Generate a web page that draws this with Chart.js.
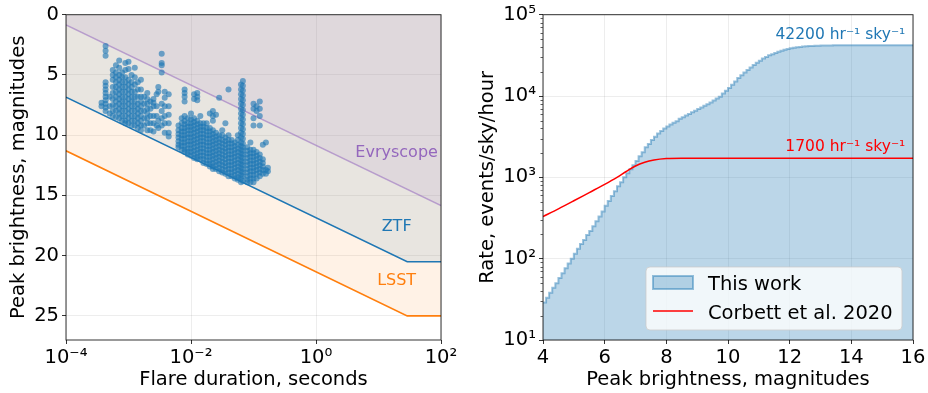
<!DOCTYPE html>
<html>
<head>
<meta charset="utf-8">
<script src="https://cdn.jsdelivr.net/npm/chart.js@4.4.1/dist/chart.umd.min.js"></script>
<style>
  body { margin: 0; background: #fff; }
  #wrap { position: relative; width: 928px; height: 393px; }
  canvas { position: absolute; top: 0; }
</style>
</head>
<body>
<div id="wrap">
  <canvas id="left" width="464" height="393" style="left:0"></canvas>
  <canvas id="right" width="464" height="393" style="left:464px"></canvas>
</div>
<script>
// ---------- left panel: survey limits + flare sample ----------
const durTicks = [1e-4, 1e-2, 1e0, 1e2];
const magTicks = [0, 5, 10, 15, 20, 25];

const evryDur = [1e-4, 1e2];
const evryMag = [0.85, 15.85];
const ztfDur = [1e-4, 28.8, 1e2];
const ztfMag = [6.85, 20.5, 20.5];
const lsstDur = [1e-4, 28.8, 1e2];
const lsstMag = [11.3, 25.0, 25.0];

// flare durations (s) and the peak magnitudes seen at each one
const flareDur = [
  3.7e-4, 4.3e-4, 5.0e-4, 5.6e-4, 6.3e-4, 7.1e-4, 7.9e-4, 8.9e-4, 1.0e-3, 1.12e-3,
  1.26e-3, 1.41e-3, 1.58e-3, 1.78e-3, 2.0e-3, 2.24e-3, 2.51e-3, 2.82e-3, 3.0e-3, 3.4e-3,
  3.8e-3, 4.4e-3,
  6.3e-3, 7.1e-3, 7.9e-3, 8.9e-3, 1.0e-2, 1.12e-2, 1.26e-2, 1.41e-2, 1.58e-2, 1.78e-2,
  2.0e-2, 2.24e-2, 2.51e-2, 2.82e-2, 3.16e-2, 3.55e-2, 3.98e-2, 4.47e-2, 5.01e-2, 5.62e-2,
  6.31e-2, 6.76e-2, 7.94e-2, 8.91e-2, 0.1, 0.112, 0.126, 0.141, 0.158, 0.17
];
const flareMag = [
  [7.3, 7.6],
  [2.6, 3.0, 3.4, 5.6, 5.9, 6.2, 6.5, 6.8, 7.1, 7.4, 7.7, 8.0],
  [6.8, 7.6, 8.2],
  [4.6, 5.0, 5.4, 6.0, 6.5, 7.0, 7.5, 8.0, 8.4],
  [4.2, 4.8, 5.2, 5.6, 6.0, 6.4, 6.8, 7.2, 7.6, 8.0, 8.5],
  [3.8, 4.4, 5.0, 5.4, 5.8, 6.2, 6.6, 7.0, 7.4, 7.8, 8.2, 8.6],
  [4.8, 5.2, 5.6, 6.0, 6.4, 6.8, 7.2, 7.6, 8.0, 8.4, 8.8],
  [4.0, 4.6, 5.2, 5.6, 6.0, 6.4, 6.8, 7.2, 7.6, 8.0, 8.4, 8.8, 9.0],
  [3.9, 4.5, 5.4, 5.8, 6.2, 6.6, 7.0, 7.4, 7.8, 8.2, 8.6, 9.0],
  [5.0, 5.6, 6.0, 6.4, 6.8, 7.2, 7.6, 8.0, 8.4, 8.8, 9.2],
  [4.4, 5.2, 5.8, 6.4, 6.8, 7.2, 7.6, 8.0, 8.4, 8.8, 9.2],
  [5.6, 6.2, 6.8, 7.4, 7.8, 8.2, 8.6, 9.0, 9.4],
  [5.4, 6.2, 6.8, 7.2, 7.6, 8.0, 8.4, 8.8, 9.2, 9.6],
  [6.8, 7.4, 8.0, 8.6, 9.2],
  [6.5, 7.0, 7.4, 7.8, 8.2, 8.6, 9.0, 9.6],
  [7.2, 7.8, 8.4, 9.0, 9.6],
  [7.0, 7.3, 7.6, 8.4, 9.0, 9.7],
  [6.6, 7.6, 8.4, 9.2],
  [6.0, 6.4, 8.8, 9.4],
  [3.25, 4.0, 4.2, 4.8, 7.4, 8.0, 8.6, 9.2],
  [6.4, 6.9, 7.6, 8.4, 9.0, 9.8],
  [6.6, 7.6, 8.3, 9.0, 9.8, 10.1],
  [9.2, 9.6, 9.9, 10.2, 10.5, 10.8, 11.0],
  [8.6, 9.0, 9.4, 9.7, 10.0, 10.3, 10.6, 10.9, 11.2],
  [6.2, 6.5, 6.8, 7.2, 8.4, 8.8, 9.1, 9.4, 9.7, 10.0, 10.3, 10.6, 10.9, 11.2, 11.4],
  [8.6, 9.0, 9.3, 9.6, 9.9, 10.2, 10.5, 10.8, 11.1, 11.4, 11.6],
  [8.2, 8.7, 9.0, 9.3, 9.6, 9.9, 10.2, 10.5, 10.8, 11.1, 11.4, 11.7],
  [6.6, 7.0, 8.6, 8.9, 9.2, 9.5, 9.8, 10.1, 10.4, 10.7, 11.0, 11.3, 11.6, 11.9],
  [6.5, 6.8, 7.1, 8.8, 9.1, 9.4, 9.7, 10.0, 10.3, 10.6, 10.9, 11.2, 11.5, 11.8, 12.0],
  [8.4, 9.0, 9.3, 9.6, 9.9, 10.2, 10.5, 10.8, 11.1, 11.4, 11.7, 12.0],
  [9.0, 9.3, 9.6, 9.9, 10.2, 10.5, 10.8, 11.1, 11.4, 11.7, 12.0, 12.3],
  [9.0, 9.4, 9.7, 10.0, 10.3, 10.6, 10.9, 11.2, 11.5, 11.8, 12.1, 12.4],
  [8.2, 9.4, 9.7, 10.0, 10.3, 10.6, 10.9, 11.2, 11.5, 11.8, 12.1, 12.4, 12.6],
  [8.0, 8.4, 8.8, 9.6, 9.9, 10.2, 10.5, 10.8, 11.1, 11.4, 11.7, 12.0, 12.3, 12.6, 12.8],
  [8.3, 9.8, 10.1, 10.4, 10.7, 11.0, 11.3, 11.6, 11.9, 12.2, 12.5, 12.8],
  [6.9, 10.0, 10.3, 10.6, 10.9, 11.2, 11.5, 11.8, 12.1, 12.4, 12.7, 13.0],
  [9.6, 10.0, 10.4, 10.7, 11.0, 11.3, 11.6, 11.9, 12.2, 12.5, 12.8, 13.1],
  [9.0, 10.2, 10.5, 10.8, 11.1, 11.4, 11.7, 12.0, 12.3, 12.6, 12.9, 13.2],
  [6.2, 10.0, 10.4, 10.7, 11.0, 11.3, 11.6, 11.9, 12.2, 12.5, 12.8, 13.1, 13.4],
  [10.4, 10.7, 11.0, 11.3, 11.6, 11.9, 12.2, 12.5, 12.8, 13.1, 13.4],
  [10.6, 10.9, 11.2, 11.5, 11.8, 12.1, 12.4, 12.7, 13.0, 13.3, 13.6],
  [10.0, 10.4, 10.8, 11.1, 11.4, 11.7, 12.0, 12.3, 12.6, 12.9, 13.2, 13.5, 13.7],
  [5.8, 6.2, 6.6, 7.0, 7.4, 7.8, 8.2, 8.6, 9.0, 9.4, 9.8, 10.2, 10.6, 10.9, 11.2, 11.5, 11.8, 12.1, 12.4, 12.7, 13.0, 13.3, 13.6, 13.9],
  [5.5, 5.9, 6.3, 6.7, 7.1, 7.5, 7.9, 8.3, 8.7, 9.1, 9.5, 9.9, 10.3, 10.7, 11.0, 11.3, 11.6, 11.9, 12.2, 12.5, 12.8, 13.1, 13.4, 13.8],
  [11.0, 11.3, 11.6, 11.9, 12.2, 12.5, 12.8, 13.1, 13.4, 13.7, 13.9],
  [10.6, 11.2, 11.5, 11.8, 12.1, 12.4, 12.7, 13.0, 13.3, 13.6, 13.9],
  [7.4, 7.8, 8.6, 9.2, 11.2, 11.5, 11.8, 12.1, 12.4, 12.7, 13.0, 13.3, 13.6, 13.9],
  [7.6, 8.0, 11.4, 11.7, 12.0, 12.3, 12.6, 12.9, 13.2, 13.6],
  [7.2, 7.8, 8.4, 9.2, 11.6, 11.9, 12.2, 12.5, 12.8, 13.1, 13.4],
  [10.8, 12.0, 12.3, 12.6, 12.9, 13.2],
  [10.6, 12.9, 13.2],
  [12.7, 13.0]
];

// ---------- right panel: cumulative rate ----------
const rateMagTicks = [4, 6, 8, 10, 12, 14, 16];
const rateTicks = [1e1, 1e2, 1e3, 1e4, 1e5];
const histStart = 4.0;
const histStep = 0.1;
const histRate = [
  29, 33, 38, 44, 50, 58, 66, 76, 87, 100,
  115, 132, 151, 170, 195, 219, 251, 288, 331, 380,
  447, 513, 589, 676, 776, 871, 1000, 1122, 1259, 1413,
  1585, 1820, 2042, 2344, 2570, 2884, 3162, 3467, 3715, 3981,
  4217, 4467, 4677, 4898, 5248, 5495, 5754, 6026, 6310, 6607,
  6918, 7244, 7586, 7943, 8318, 8810, 9333, 9772, 10720, 11610,
  12590, 13800, 15140, 16600, 17990, 19500, 20890, 22390, 23990, 25700,
  27230, 28840, 30200, 31620, 32730, 33880, 35080, 36060, 37150, 37840,
  38640, 39360, 39810, 40180, 40550, 40830, 41110, 41300, 41500, 41590,
  41690, 41780, 41860, 41930, 41990, 42040, 42080, 42110, 42140, 42160,
  42170, 42180, 42190, 42190, 42200, 42200, 42200, 42200, 42200, 42200,
  42200, 42200, 42200, 42200, 42200, 42200, 42200, 42200, 42200, 42200
];
const corbettMag = [4.0, 4.5, 5.0, 5.5, 6.0, 6.4, 6.7, 7.0, 7.3, 7.6, 8.0, 8.5, 9.0, 16.0];
const corbettRate = [330, 410, 515, 650, 820, 1000, 1180, 1380, 1530, 1630, 1700, 1720, 1720, 1720];

Chart.defaults.font.family = "'DejaVu Sans'";
Chart.defaults.color = "#000";

const BLUE = "#1f77b4";
const GRID = "rgba(0,0,0,0.07)";
const FONT = 19.5;

const sup = { "-": "⁻", "0": "⁰", "1": "¹", "2": "²", "3": "³", "4": "⁴", "5": "⁵" };
function powLabel(v) {
  let e = String(Math.round(Math.log10(v)));
  return "10" + e.split("").map((c) => sup[c]).join("");
}
function zip(xs, ys) {
  return xs.map((x, i) => ({ x: x, y: ys[i] }));
}

let flarePoints = [];
flareDur.forEach((t, i) => {
  flareMag[i].forEach((m) => flarePoints.push({ x: t, y: m }));
});

let histPoints = histRate.map((r, i) => ({ x: +(histStart + i * histStep).toFixed(1), y: r }));
histPoints.push({ x: +(histStart + histRate.length * histStep).toFixed(1), y: histRate[histRate.length - 1] });

// box round the plot area
const frame = {
  id: "frame",
  afterDatasetsDraw(chart) {
    const a = chart.chartArea;
    const ctx = chart.ctx;
    ctx.save();
    ctx.strokeStyle = "rgba(0,0,0,0.8)";
    ctx.lineWidth = 1;
    ctx.strokeRect(a.left, a.top, a.right - a.left, a.bottom - a.top);
    ctx.restore();
  },
};

function textLabels(items) {
  return {
    id: "textLabels",
    afterDatasetsDraw(chart) {
      const ctx = chart.ctx;
      ctx.save();
      items.forEach((it) => {
        ctx.font = it.size + "px 'DejaVu Sans'";
        ctx.fillStyle = it.color;
        ctx.textAlign = it.align;
        ctx.textBaseline = it.baseline;
        ctx.fillText(it.text, chart.scales.x.getPixelForValue(it.x), chart.scales.y.getPixelForValue(it.y));
      });
      ctx.restore();
    },
  };
}

const minorTicks = {
  id: "minorTicks",
  afterDraw(chart) {
    const s = chart.scales.y;
    const ctx = chart.ctx;
    ctx.save();
    ctx.strokeStyle = "#333";
    ctx.lineWidth = 0.8;
    for (let d = 1; d < 5; d++) {
      for (let k = 2; k < 10; k++) {
        let y = Math.round(s.getPixelForValue(k * Math.pow(10, d))) + 0.5;
        ctx.beginPath();
        ctx.moveTo(s.right - 2.5, y);
        ctx.lineTo(s.right, y);
        ctx.stroke();
      }
    }
    ctx.restore();
  },
};

const rateLegend = {
  id: "rateLegend",
  afterDraw(chart) {
    const a = chart.chartArea;
    const ctx = chart.ctx;
    const w = 256, h = 63;
    const x0 = a.right - 11 - w, y0 = a.bottom - 10 - h;
    const hist = chart.data.datasets[1];
    const corb = chart.data.datasets[0];
    ctx.save();
    ctx.beginPath();
    ctx.roundRect(x0, y0, w, h, 4);
    ctx.fillStyle = "rgba(255,255,255,0.8)";
    ctx.fill();
    ctx.strokeStyle = "rgba(204,204,204,0.8)";
    ctx.lineWidth = 1;
    ctx.stroke();
    ctx.fillStyle = hist.backgroundColor;
    ctx.fillRect(x0 + 7, y0 + 9, 40, 13);
    ctx.strokeStyle = hist.borderColor;
    ctx.lineWidth = 2;
    ctx.strokeRect(x0 + 7, y0 + 9, 40, 13);
    ctx.strokeStyle = corb.borderColor;
    ctx.lineWidth = 1.5;
    ctx.beginPath();
    ctx.moveTo(x0 + 7, y0 + 44);
    ctx.lineTo(x0 + 47, y0 + 44);
    ctx.stroke();
    ctx.fillStyle = "#000";
    ctx.font = FONT + "px 'DejaVu Sans'";
    ctx.textAlign = "left";
    ctx.textBaseline = "alphabetic";
    ctx.fillText(hist.label, x0 + 62, y0 + 22.5);
    ctx.fillText(corb.label, x0 + 62, y0 + 51.5);
    ctx.restore();
  },
};

new Chart(document.getElementById("left"), {
  type: "line",
  data: {
    datasets: [
      {
        type: "scatter",
        data: flarePoints,
        pointRadius: 3,
        pointBackgroundColor: "rgba(31,119,180,0.62)",
        pointBorderColor: "rgba(0,0,0,0)",
        pointBorderWidth: 0,
        borderWidth: 0,
        showLine: false,
      },
      {
        label: "Evryscope",
        data: zip(evryDur, evryMag),
        borderColor: "rgba(148,103,189,0.55)",
        backgroundColor: "rgba(148,103,189,0.1)",
        borderWidth: 1.5,
        pointRadius: 0,
        fill: "end",
      },
      {
        label: "ZTF",
        data: zip(ztfDur, ztfMag),
        borderColor: BLUE,
        backgroundColor: "rgba(31,119,180,0.1)",
        borderWidth: 1.6,
        pointRadius: 0,
        fill: "end",
      },
      {
        label: "LSST",
        data: zip(lsstDur, lsstMag),
        borderColor: "#ff7f0e",
        backgroundColor: "rgba(255,127,14,0.1)",
        borderWidth: 1.6,
        pointRadius: 0,
        fill: "end",
      },
    ],
  },
  options: {
    responsive: false,
    animation: false,
    devicePixelRatio: 1,
    layout: { padding: { top: 13, right: 23, left: 0, bottom: 0 } },
    plugins: { legend: { display: false }, tooltip: { enabled: false } },
    scales: {
      x: {
        type: "logarithmic",
        min: 1e-4,
        max: 1e2,
        afterBuildTicks: (s) => { s.ticks = durTicks.map((v) => ({ value: v })); },
        afterFit: (s) => { s.height = 53; },
        ticks: { callback: (v) => powLabel(v), font: { size: FONT }, padding: 2, maxRotation: 0, autoSkip: false },
        grid: { color: GRID, tickColor: "#333", tickLength: 4 },
        border: { display: false },
        title: { display: true, text: "Flare duration, seconds", font: { size: FONT }, padding: { top: 0, bottom: 1.5 } },
      },
      y: {
        type: "linear",
        reverse: true,
        min: 0,
        max: 27,
        afterBuildTicks: (s) => { s.ticks = magTicks.map((v) => ({ value: v })); },
        afterFit: (s) => { s.width = 66; },
        ticks: { font: { size: FONT }, padding: 3 },
        grid: { color: GRID, tickColor: "#333", tickLength: 4 },
        border: { display: false },
        title: { display: true, text: "Peak brightness, magnitudes", font: { size: FONT }, padding: { top: 7.3, bottom: 0 } },
      },
    },
  },
  plugins: [
    frame,
    textLabels([
      { text: "Evryscope", x: 19.5, y: 11.5, color: "#9467bd", size: 16, align: "center", baseline: "middle" },
      { text: "ZTF", x: 19.5, y: 17.6, color: BLUE, size: 16, align: "center", baseline: "middle" },
      { text: "LSST", x: 19.5, y: 22.1, color: "#ff7f0e", size: 16, align: "center", baseline: "middle" },
    ]),
  ],
});

new Chart(document.getElementById("right"), {
  type: "line",
  data: {
    datasets: [
      {
        label: "Corbett et al. 2020",
        data: zip(corbettMag, corbettRate),
        borderColor: "#ff0000",
        borderWidth: 1.5,
        pointRadius: 0,
        cubicInterpolationMode: "monotone",
        fill: false,
        order: 0,
      },
      {
        label: "This work",
        data: histPoints,
        stepped: true,
        borderColor: "rgba(31,119,180,0.45)",
        backgroundColor: "rgba(31,119,180,0.3)",
        borderWidth: 2,
        pointRadius: 0,
        fill: "start",
        order: 1,
      },
    ],
  },
  options: {
    responsive: false,
    animation: false,
    devicePixelRatio: 1,
    layout: { padding: { top: 13, right: 15, left: 0, bottom: 0 } },
    plugins: { legend: { display: false }, tooltip: { enabled: false } },
    scales: {
      x: {
        type: "linear",
        min: 4,
        max: 16,
        afterBuildTicks: (s) => { s.ticks = rateMagTicks.map((v) => ({ value: v })); },
        afterFit: (s) => { s.height = 53; },
        ticks: { font: { size: FONT }, padding: 2, maxRotation: 0, autoSkip: false },
        grid: { color: GRID, tickColor: "#333", tickLength: 4 },
        border: { display: false },
        title: { display: true, text: "Peak brightness, magnitudes", font: { size: FONT }, padding: { top: 0, bottom: 1.5 } },
      },
      y: {
        type: "logarithmic",
        min: 10,
        max: 1e5,
        afterBuildTicks: (s) => { s.ticks = rateTicks.map((v) => ({ value: v })); },
        afterFit: (s) => { s.width = 79; },
        ticks: { callback: (v) => powLabel(v), font: { size: FONT }, padding: 3 },
        grid: { color: GRID, tickColor: "#333", tickLength: 4 },
        border: { display: false },
        title: { display: true, text: "Rate, events/sky/hour", font: { size: FONT }, padding: { top: 11.8, bottom: 0 } },
      },
    },
  },
  plugins: [
    frame,
    minorTicks,
    rateLegend,
    textLabels([
      { text: "42200 hr⁻¹ sky⁻¹", x: 15.75, y: 50800, color: BLUE, size: 15.5, align: "right", baseline: "alphabetic" },
      { text: "1700 hr⁻¹ sky⁻¹", x: 15.75, y: 2120, color: "#ff0000", size: 15.5, align: "right", baseline: "alphabetic" },
    ]),
  ],
});
</script>
</body>
</html>
